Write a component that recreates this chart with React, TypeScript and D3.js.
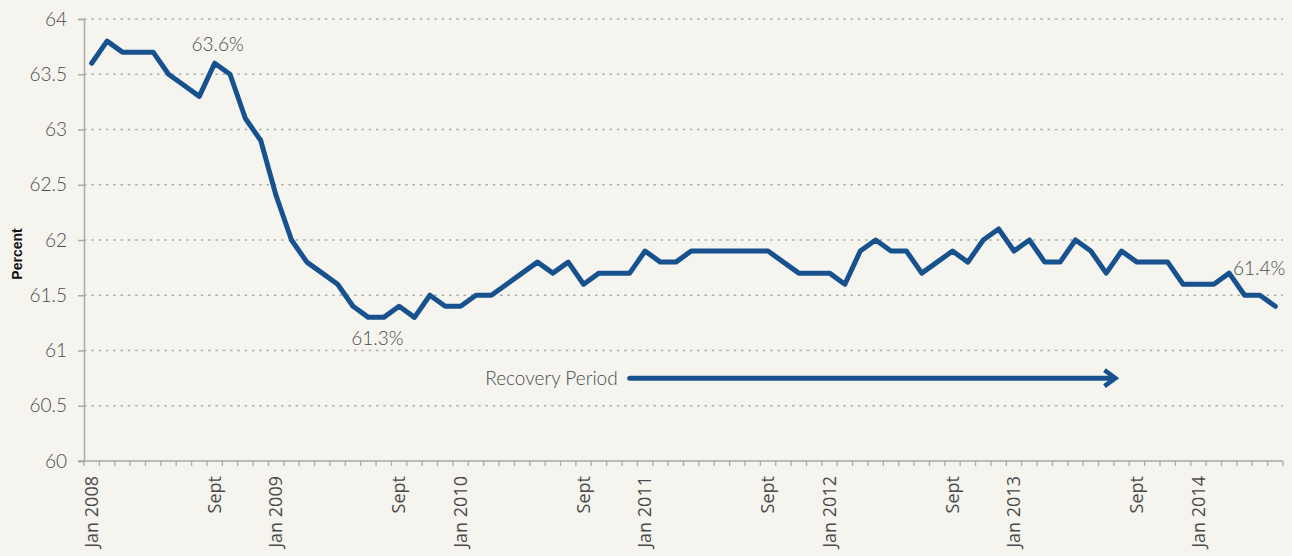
import React, { useEffect, useRef } from 'react'
import * as d3 from 'd3'

// monthly values, Jan 2008 .. Jun 2014
const values = [
  63.6, 63.8, 63.7, 63.7, 63.7, 63.5, 63.4, 63.3, 63.6, 63.5, 63.1, 62.9,
  62.4, 62.0, 61.8, 61.7, 61.6, 61.4, 61.3, 61.3, 61.4, 61.3, 61.5, 61.4,
  61.4, 61.5, 61.5, 61.6, 61.7, 61.8, 61.7, 61.8, 61.6, 61.7, 61.7, 61.7,
  61.9, 61.8, 61.8, 61.9, 61.9, 61.9, 61.9, 61.9, 61.9, 61.8, 61.7, 61.7,
  61.7, 61.6, 61.9, 62.0, 61.9, 61.9, 61.7, 61.8, 61.9, 61.8, 62.0, 62.1,
  61.9, 62.0, 61.8, 61.8, 62.0, 61.9, 61.7, 61.9, 61.8, 61.8, 61.8, 61.6,
  61.6, 61.6, 61.7, 61.5, 61.5, 61.4,
]

const tickLabels = [
  { i: 0, text: 'Jan 2008' }, { i: 8, text: 'Sept' },
  { i: 12, text: 'Jan 2009' }, { i: 20, text: 'Sept' },
  { i: 24, text: 'Jan 2010' }, { i: 32, text: 'Sept' },
  { i: 36, text: 'Jan 2011' }, { i: 44, text: 'Sept' },
  { i: 48, text: 'Jan 2012' }, { i: 56, text: 'Sept' },
  { i: 60, text: 'Jan 2013' }, { i: 68, text: 'Sept' },
  { i: 72, text: 'Jan 2014' },
]

const yTicks = [60, 60.5, 61, 61.5, 62, 62.5, 63, 63.5, 64]

const callouts = [
  { i: 8, text: '63.6%', dx: 3, dy: -19, anchor: 'middle' },
  { i: 18, text: '61.3%', dx: 9, dy: 21, anchor: 'middle' },
  { i: 77, text: '61.4%', dx: 10, dy: -38, anchor: 'end' },
]

const recovery = { from: 35, to: 66.6, level: 60.75, label: 'Recovery Period' }

const App = () => {
  const ref = useRef(null)

  useEffect(() => {
    const svg = d3.select(ref.current)
    svg.selectAll('*').remove()

    const width = 1292
    const height = 556
    const left = 84
    const right = 1283
    const top = 19
    const bottom = 461
    const blue = '#17528f'
    const grey = '#4a4a4a'
    const light = 'Lato, "Open Sans", sans-serif'

    svg.attr('width', width).attr('height', height)
    svg.append('rect').attr('width', width).attr('height', height).attr('fill', '#f5f4ee')

    const x = d3.scaleBand().domain(d3.range(values.length)).range([left, right])
    const bw = x.bandwidth()
    const cx = (i) => left + bw * (i + 0.5)
    const y = d3.scaleLinear().domain([60, 64]).range([bottom, top])

    // grid
    svg.append('g')
      .selectAll('line')
      .data(yTicks.filter((t) => t > 60))
      .enter()
      .append('line')
      .attr('x1', left)
      .attr('x2', right)
      .attr('y1', (d) => y(d))
      .attr('y2', (d) => y(d))
      .attr('stroke', '#adaca6')
      .attr('stroke-width', 1.3)
      .attr('stroke-dasharray', '2.5,4.8')

    // y axis
    const ya = svg.append('g').attr('transform', `translate(${left},0)`)
      .call(d3.axisLeft(y).tickValues(yTicks).tickSize(6).tickFormat((d) => `${d}`).tickPadding(11))
    ya.select('.domain').attr('stroke', '#aaa').attr('stroke-width', 1.5)
    ya.selectAll('.tick line').attr('stroke', '#aaa').attr('stroke-width', 1.5)
    ya.selectAll('.tick text')
      .attr('fill', grey)
      .style('font-family', light)
      .style('font-weight', 300)
      .style('font-size', '19px')

    // x axis
    svg.append('line')
      .attr('x1', left - 6).attr('x2', right)
      .attr('y1', bottom).attr('y2', bottom)
      .attr('stroke', '#aaa').attr('stroke-width', 1.5)
    svg.append('g')
      .selectAll('line')
      .data(d3.range(values.length + 1))
      .enter()
      .append('line')
      .attr('x1', (i) => left + bw * i)
      .attr('x2', (i) => left + bw * i)
      .attr('y1', bottom)
      .attr('y2', bottom + 5)
      .attr('stroke', '#aaa')
      .attr('stroke-width', 1.3)

    svg.append('g')
      .selectAll('text')
      .data(tickLabels)
      .enter()
      .append('text')
      .attr('transform', (d) => `translate(${cx(d.i)},${bottom + 15}) rotate(-90)`)
      .attr('text-anchor', 'end')
      .attr('dy', '0.35em')
      .attr('fill', grey)
      .style('font-family', '"Open Sans", sans-serif')
      .style('font-size', '18px')
      .text((d) => d.text)

    // y title
    svg.append('text')
      .attr('transform', `translate(17,254) rotate(-90)`)
      .attr('text-anchor', 'middle')
      .attr('dy', '0.35em')
      .attr('fill', '#111')
      .style('font-family', '"Liberation Sans", Arial, sans-serif')
      .style('font-weight', 700)
      .style('font-size', '14px')
      .text('Percent')

    // line
    const line = d3.line().x((d, i) => cx(i)).y((d) => y(d))
    svg.append('path')
      .datum(values)
      .attr('d', line)
      .attr('fill', 'none')
      .attr('stroke', blue)
      .attr('stroke-width', 5)
      .attr('stroke-linejoin', 'round')
      .attr('stroke-linecap', 'round')

    // callouts
    svg.append('g')
      .selectAll('text')
      .data(callouts)
      .enter()
      .append('text')
      .attr('x', (d) => cx(d.i) + d.dx)
      .attr('y', (d) => y(values[d.i]) + d.dy)
      .attr('text-anchor', (d) => d.anchor)
      .attr('dy', '0.35em')
      .attr('fill', grey)
      .style('font-family', light)
      .style('font-weight', 300)
      .style('font-size', '19px')
      .text((d) => d.text)

    // recovery arrow
    const ay = y(recovery.level)
    const ax0 = cx(recovery.from)
    const ax1 = cx(recovery.to)
    svg.append('text')
      .attr('x', ax0 - 12)
      .attr('y', ay)
      .attr('dy', '0.35em')
      .attr('text-anchor', 'end')
      .attr('fill', grey)
      .style('font-family', light)
      .style('font-weight', 300)
      .style('font-size', '19px')
      .text(recovery.label)
    svg.append('line')
      .attr('x1', ax0).attr('x2', ax1 - 2)
      .attr('y1', ay).attr('y2', ay)
      .attr('stroke', blue).attr('stroke-width', 5).attr('stroke-linecap', 'round')
    svg.append('path')
      .attr('d', `M${ax1 - 11},${ay - 8} L${ax1},${ay} L${ax1 - 11},${ay + 8}`)
      .attr('fill', 'none')
      .attr('stroke', blue)
      .attr('stroke-width', 4.5)
      .attr('stroke-linejoin', 'miter')
  }, [])

  return <svg ref={ref} style={{ position: 'absolute', left: 0, top: 0, display: 'block' }}></svg>
}

export default App
